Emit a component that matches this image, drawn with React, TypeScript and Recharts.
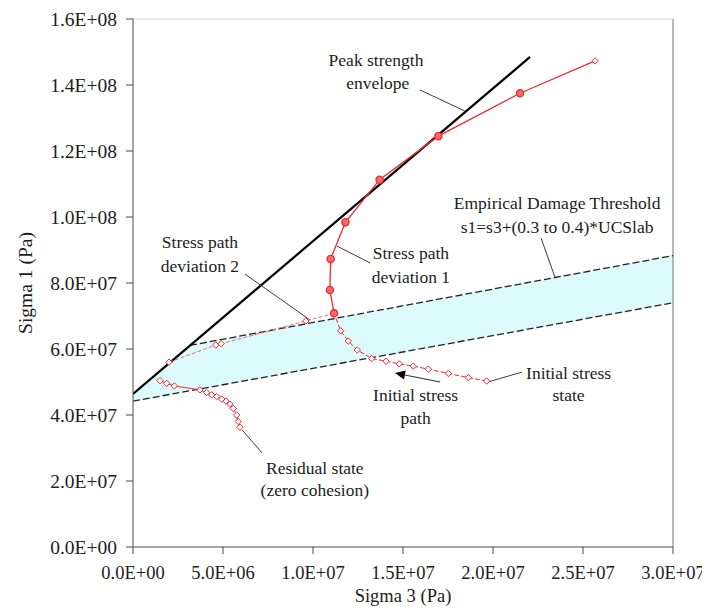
import React from "react";
import {
  ComposedChart,
  Line,
  Area,
  XAxis,
  YAxis,
  ReferenceLine,
  ReferenceDot,
} from "recharts";

// ---------- data (Pa) ----------
const sigma3Ticks = [0, 5e6, 1e7, 1.5e7, 2e7, 2.5e7, 3e7];
const sigma1Ticks = [0, 2e7, 4e7, 6e7, 8e7, 1e8, 1.2e8, 1.4e8, 1.6e8];

// Peak strength envelope
const envelopeS3 = [0, 22.06e6];
const envelopeS1 = [46.4e6, 148.5e6];

// Empirical damage threshold band
const bandS3 = [0, 3.17e6, 30e6];
const bandLow = [44.2e6, 47.35e6, 74.0e6];
const bandHigh = [46.4e6, 61.1e6, 88.3e6];

// Initial stress path (from initial stress state toward the band)
const initialS3 = [19.65e6, 18.63e6, 17.52e6, 16.41e6, 15.57e6, 14.79e6, 14.06e6, 13.26e6, 12.46e6, 11.96e6, 11.54e6, 11.17e6];
const initialS1 = [50.3e6, 51.3e6, 52.6e6, 53.9e6, 54.8e6, 55.5e6, 56.3e6, 57.1e6, 59.7e6, 62.4e6, 65.5e6, 70.8e6];

// Stress path deviation 1
const dev1S3 = [11.17e6, 10.94e6, 10.98e6, 11.8e6, 13.7e6, 16.96e6, 21.5e6, 25.67e6];
const dev1S1 = [70.8e6, 77.9e6, 87.3e6, 98.4e6, 111.3e6, 124.5e6, 137.5e6, 147.3e6];

// Stress path deviation 2
const dev2S3 = [11.17e6, 9.6e6, 4.9e6, 4.6e6, 2.0e6];
const dev2S1 = [70.8e6, 68.5e6, 61.6e6, 61.2e6, 56.0e6];

// Residual state path
const residualS3 = [1.5e6, 1.87e6, 2.3e6, 3.72e6, 4.09e6, 4.37e6, 4.65e6, 4.93e6, 5.17e6, 5.39e6, 5.57e6, 5.76e6, 5.85e6, 5.94e6];
const residualS1 = [50.4e6, 49.6e6, 48.8e6, 47.6e6, 46.8e6, 46.1e6, 45.6e6, 44.8e6, 44.2e6, 43.3e6, 42.0e6, 40.0e6, 38.0e6, 36.3e6];

// ---------- helpers ----------
const zip = (xs: number[], ys: number[]) => xs.map((x, i) => ({ x, y: ys[i] }));
const envelopeData = zip(envelopeS3, envelopeS1);
const lowerLineData = zip(bandS3, bandLow);
const upperLineData = zip(bandS3.slice(1), bandHigh.slice(1));
const bandData = bandS3.map((x, i) => ({ x, range: [bandLow[i], bandHigh[i]] }));
const initialData = zip(initialS3, initialS1);
const dev1Data = zip(dev1S3, dev1S1);
const dev2Data = zip(dev2S3, dev2S1);
const residualData = zip(residualS3, residualS1);

const fmt = (v: number) => {
  if (v === 0) return "0.0E+00";
  const e = Math.floor(Math.log10(v) + 1e-9);
  const m = v / Math.pow(10, e);
  return `${m.toFixed(1)}E+${String(e).padStart(2, "0")}`;
};

const FONT = "'Liberation Serif', 'Times New Roman', serif";
const RED = "#ee2a2f";
const TEXT = "#1c1c1c";

const diamond = (cx: number, cy: number, key: string, s = 3.2) => (
  <path
    key={key}
    d={`M${cx},${cy - s}L${cx + s},${cy}L${cx},${cy + s}L${cx - s},${cy}Z`}
    fill="#fff"
    stroke={RED}
    strokeWidth={1}
  />
);

const DiamondDot = (props: any) => {
  const { cx, cy, index } = props;
  if (cx == null || cy == null) return <g key={`e${index}`} />;
  return diamond(cx, cy, `d${index}`);
};

const Dev1Dot = (props: any) => {
  const { cx, cy, index } = props;
  if (cx == null || cy == null) return <g key={`e${index}`} />;
  if (index === dev1S3.length - 1) return diamond(cx, cy, `d${index}`);
  return <circle key={`c${index}`} cx={cx} cy={cy} r={3.6} fill="#f46a6a" stroke={RED} strokeWidth={1.3} />;
};

const ArrowShape = (p: any) => {
  const { x1, y1, x2, y2 } = p;
  const dx = x2 - x1;
  const dy = y2 - y1;
  const len = Math.hypot(dx, dy) || 1;
  const ux = dx / len;
  const uy = dy / len;
  const L = 10;
  const W = 4.5;
  const bx = x2 - ux * L;
  const by = y2 - uy * L;
  return (
    <g>
      <line x1={x1} y1={y1} x2={bx} y2={by} stroke="#333" strokeWidth={1.2} />
      <path d={`M${x2},${y2}L${bx - uy * W},${by + ux * W}L${bx + uy * W},${by - ux * W}Z`} fill="#000" />
    </g>
  );
};

// annotation texts (data coordinates of text centres)
const annotationTexts: { x: number; y: number; text: string }[] = [
  { x: 13.5e6, y: 147.6e6, text: "Peak strength" },
  { x: 13.6e6, y: 140.8e6, text: "envelope" },
  { x: 23.56e6, y: 104.2e6, text: "Empirical Damage Threshold" },
  { x: 23.56e6, y: 97.0e6, text: "s1=s3+(0.3 to 0.4)*UCSlab" },
  { x: 15.44e6, y: 89.1e6, text: "Stress path" },
  { x: 15.44e6, y: 81.8e6, text: "deviation 1" },
  { x: 3.72e6, y: 92.4e6, text: "Stress path" },
  { x: 3.72e6, y: 85.2e6, text: "deviation 2" },
  { x: 24.2e6, y: 52.7e6, text: "Initial stress" },
  { x: 24.2e6, y: 46.1e6, text: "state" },
  { x: 15.7e6, y: 46.1e6, text: "Initial stress" },
  { x: 15.7e6, y: 39.1e6, text: "path" },
  { x: 10.1e6, y: 23.9e6, text: "Residual state" },
  { x: 10.1e6, y: 17.3e6, text: "(zero cohesion)" },
];

// leader lines (data coordinates)
const leaders: [number, number, number, number][] = [
  [15.94e6, 138.5e6, 18.44e6, 132.1e6],
  [22.67e6, 93.6e6, 23.44e6, 81.8e6],
  [11.33e6, 91.2e6, 13.17e6, 86.1e6],
  [6.22e6, 82.7e6, 9.83e6, 68.8e6],
  [19.72e6, 50.0e6, 21.61e6, 53.0e6],
  [6.06e6, 35.5e6, 7.17e6, 28.5e6],
];
const arrowSeg = [17.06e6, 50.0e6, 14.56e6, 52.7e6];

export default function App() {
  return (
    <ComposedChart
      width={702}
      height={601}
      margin={{ top: 11, right: 37, bottom: 0, left: 5 }}
      style={{ fontFamily: FONT }}
    >
      <XAxis
        type="number"
        dataKey="x"
        domain={[0, 3e7]}
        ticks={sigma3Ticks}
        tickFormatter={fmt}
        allowDataOverflow
        height={62}
        tickSize={7}
        tickMargin={12}
        stroke="#4a4a4a"
        tick={{ fontSize: 18.5, fill: TEXT, fontFamily: FONT }}
        label={{ value: "Sigma 3 (Pa)", position: "insideBottom", offset: 7, fontSize: 18.5, fill: TEXT, fontFamily: FONT }}
      />
      <YAxis
        type="number"
        domain={[0, 1.6e8]}
        ticks={sigma1Ticks}
        tickFormatter={fmt}
        allowDataOverflow
        width={120}
        tickSize={7}
        tickMargin={9}
        stroke="#4a4a4a"
        tick={{ fontSize: 19.5, fill: TEXT, fontFamily: FONT }}
        label={{ value: "Sigma 1 (Pa)", angle: -90, position: "insideLeft", offset: 12, fontSize: 19.5, fill: TEXT, fontFamily: FONT, style: { textAnchor: "middle" } }}
      />
      {/* plot frame (top / right) */}
      <ReferenceLine y={1.6e8} stroke="#d4d4d4" strokeWidth={1.2} />
      <ReferenceLine x={3e7} stroke="#8a8a8a" strokeWidth={1.2} />

      <Area
        data={bandData}
        dataKey="range"
        type="linear"
        fill="#dcf9fb"
        fillOpacity={1}
        stroke="none"
        isAnimationActive={false}
        legendType="none"
      />
      <Line data={lowerLineData} dataKey="y" type="linear" stroke="#222" strokeWidth={1.3} strokeDasharray="7 3" dot={false} isAnimationActive={false} legendType="none" />
      <Line data={upperLineData} dataKey="y" type="linear" stroke="#222" strokeWidth={1.3} strokeDasharray="7 3" dot={false} isAnimationActive={false} legendType="none" />
      <Line data={envelopeData} dataKey="y" type="linear" stroke="#000" strokeWidth={2.2} dot={false} isAnimationActive={false} legendType="none" />

      {/* leader lines */}
      {leaders.map((l, i) => (
        <ReferenceLine
          key={`ld${i}`}
          segment={[{ x: l[0], y: l[1] }, { x: l[2], y: l[3] }]}
          stroke="#3c3c3c"
          strokeWidth={1}
        />
      ))}
      <ReferenceLine
        segment={[{ x: arrowSeg[0], y: arrowSeg[1] }, { x: arrowSeg[2], y: arrowSeg[3] }]}
        shape={ArrowShape}
      />

      <Line data={residualData} dataKey="y" type="linear" stroke={RED} strokeWidth={1} dot={DiamondDot} isAnimationActive={false} legendType="none" />
      <Line data={dev2Data} dataKey="y" type="linear" stroke="#e87070" strokeWidth={1} strokeDasharray="4 2" dot={DiamondDot} isAnimationActive={false} legendType="none" />
      <Line data={initialData} dataKey="y" type="linear" stroke={RED} strokeWidth={1} strokeDasharray="5 2" dot={DiamondDot} isAnimationActive={false} legendType="none" />
      <Line data={dev1Data} dataKey="y" type="linear" stroke={RED} strokeWidth={1.3} dot={Dev1Dot} isAnimationActive={false} legendType="none" />

      {annotationTexts.map((a, i) => (
        <ReferenceDot
          key={`tx${i}`}
          x={a.x}
          y={a.y}
          r={0}
          fill="none"
          stroke="none"
          label={{ value: a.text, position: "center", fontSize: 17.5, fill: TEXT, fontFamily: FONT }}
        />
      ))}
    </ComposedChart>
  );
}
